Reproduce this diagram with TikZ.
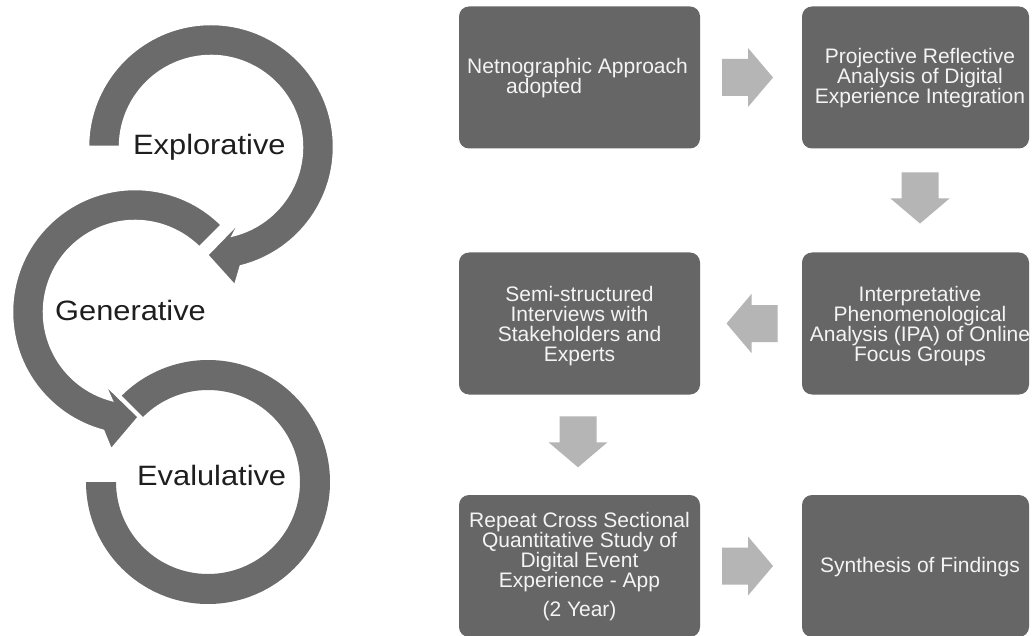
\documentclass[tikz,border=0pt]{standalone}
\usepackage{fontspec}
\setmainfont{Liberation Sans}
\usetikzlibrary{calc}
\definecolor{boxgray}{HTML}{666666}
\definecolor{ringgray}{HTML}{6B6B6B}
\definecolor{flowgray}{HTML}{B5B5B5}
\definecolor{boxtext}{HTML}{F4F4F4}
\definecolor{labeltext}{HTML}{1E1E1E}

\begin{document}
\begin{tikzpicture}[x=1pt,y=-1pt,
  stagebox/.style={draw=none, fill=boxgray, rounded corners=10pt, minimum height=142pt, inner sep=0pt},
  leftbox/.style={stagebox, minimum width=241pt},
  rightbox/.style={stagebox, minimum width=227pt},
  stagetext/.style={text=boxtext, font=\fontsize{21}{20}\selectfont, align=center, inner sep=0pt},
  cyclelabel/.style={text=labeltext, font=\fontsize{28}{30}\selectfont, anchor=base west, inner sep=0pt},
  ring/.style={fill=ringgray},
  ringcut/.style={fill=ringgray, draw=white, line width=2.5pt, line join=miter},
  blockarrow/.pic={\fill[flowgray] (-25.5,-18.5) -- (0.5,-18.5) -- (0.5,-29.5) -- (25.5,0) -- (0.5,29.5) -- (0.5,18.5) -- (-25.5,18.5) -- cycle;}
]
\fill[white] (0,0) rectangle (1033,636);
\useasboundingbox (0,0) rectangle (1033,636);

% ---- cycle of three ring arrows ----
\coordinate (E) at (211,147);
\coordinate (G) at (135,312);
\coordinate (V) at (208,482);

% Evalulative ring (no head)
\fill[ring] ($(V)+(180:122)$) arc[start angle=180, end angle=-135, radius=122]
  -- ($(V)+(-135:92)$) arc[start angle=-135, end angle=180, radius=92] -- cycle;

% Generative ring with head
\filldraw[ringcut] ($(G)+(-45:123)$) arc[start angle=-45, end angle=-255, radius=123]
  -- ($(G)+(-24,138)$) -- ($(G)+(4,105)$) -- ($(G)+(-31,71)$)
  -- ($(G)+(-255:91)$) arc[start angle=-255, end angle=-45, radius=91] -- cycle;

% Explorative ring with head
\filldraw[ringcut] ($(E)+(-180:123)$) arc[start angle=-180, end angle=76, radius=123]
  -- ($(E)+(24,139)$) -- ($(E)+(-4,108)$) -- ($(E)+(30,73)$)
  -- ($(E)+(76:91)$) arc[start angle=76, end angle=-180, radius=91] -- cycle;

\node[cyclelabel] (lexp) at (133,155) {\scalebox{1.1}[1]{Explorative}};
\node[cyclelabel] (lgen) at (55,320) {\scalebox{1.1}[1]{Generative}};
\node[cyclelabel] (leva) at (137,485) {\scalebox{1.1}[1]{Evalulative}};

% ---- process boxes ----
\node[leftbox]  (b1) at (579.5,77.5) {};
\node[rightbox] (b2) at (915.5,77.5) {};
\node[rightbox] (b3) at (915.5,323.5) {};
\node[leftbox]  (b4) at (579.5,323.5) {};
\node[leftbox]  (b5) at (579.5,566) {};
\node[rightbox] (b6) at (915.5,566) {};

\node[stagetext, anchor=west, align=left] (t1) at (467,78)
  {Netnographic Approach\\\hspace*{39pt}adopted};
\node[stagetext] (t2) at ($(b2.center)+(4.5,1)$)
  {Projective Reflective\\Analysis of Digital\\Experience Integration};
\node[stagetext] (t3) at ($(b3.center)+(4.5,3)$)
  {Interpretative\\Phenomenological\\Analysis (IPA) of Online\\Focus Groups};
\node[stagetext] (t4) at ($(b4.center)+(0,3)$)
  {Semi-structured\\Interviews with\\Stakeholders and\\Experts};
\node[stagetext] (t5) at ($(b5.center)+(0,0.5)$)
  {Repeat Cross Sectional\\Quantitative Study of\\Digital Event\\Experience - App\\[9pt](2 Year)};
\node[stagetext] (t6) at ($(b6.center)+(4.5,1)$) {Synthesis of Findings};

% ---- block arrows between boxes ----
\pic at ($(b1.east)!0.5!(b2.west)+(-3.5,0)$) {blockarrow};
\pic[rotate=-90] at ($(b2.south)!0.5!(b3.north)+(4.5,-2.5)$) {blockarrow};
\pic[rotate=180] at ($(b3.west)!0.5!(b4.east)+(1,0)$) {blockarrow};
\pic[rotate=-90] at ($(b4.south)!0.5!(b5.north)+(-1.5,-3)$) {blockarrow};
\pic at ($(b5.east)!0.5!(b6.west)+(-3.5,0)$) {blockarrow};
\end{tikzpicture}
\end{document}
